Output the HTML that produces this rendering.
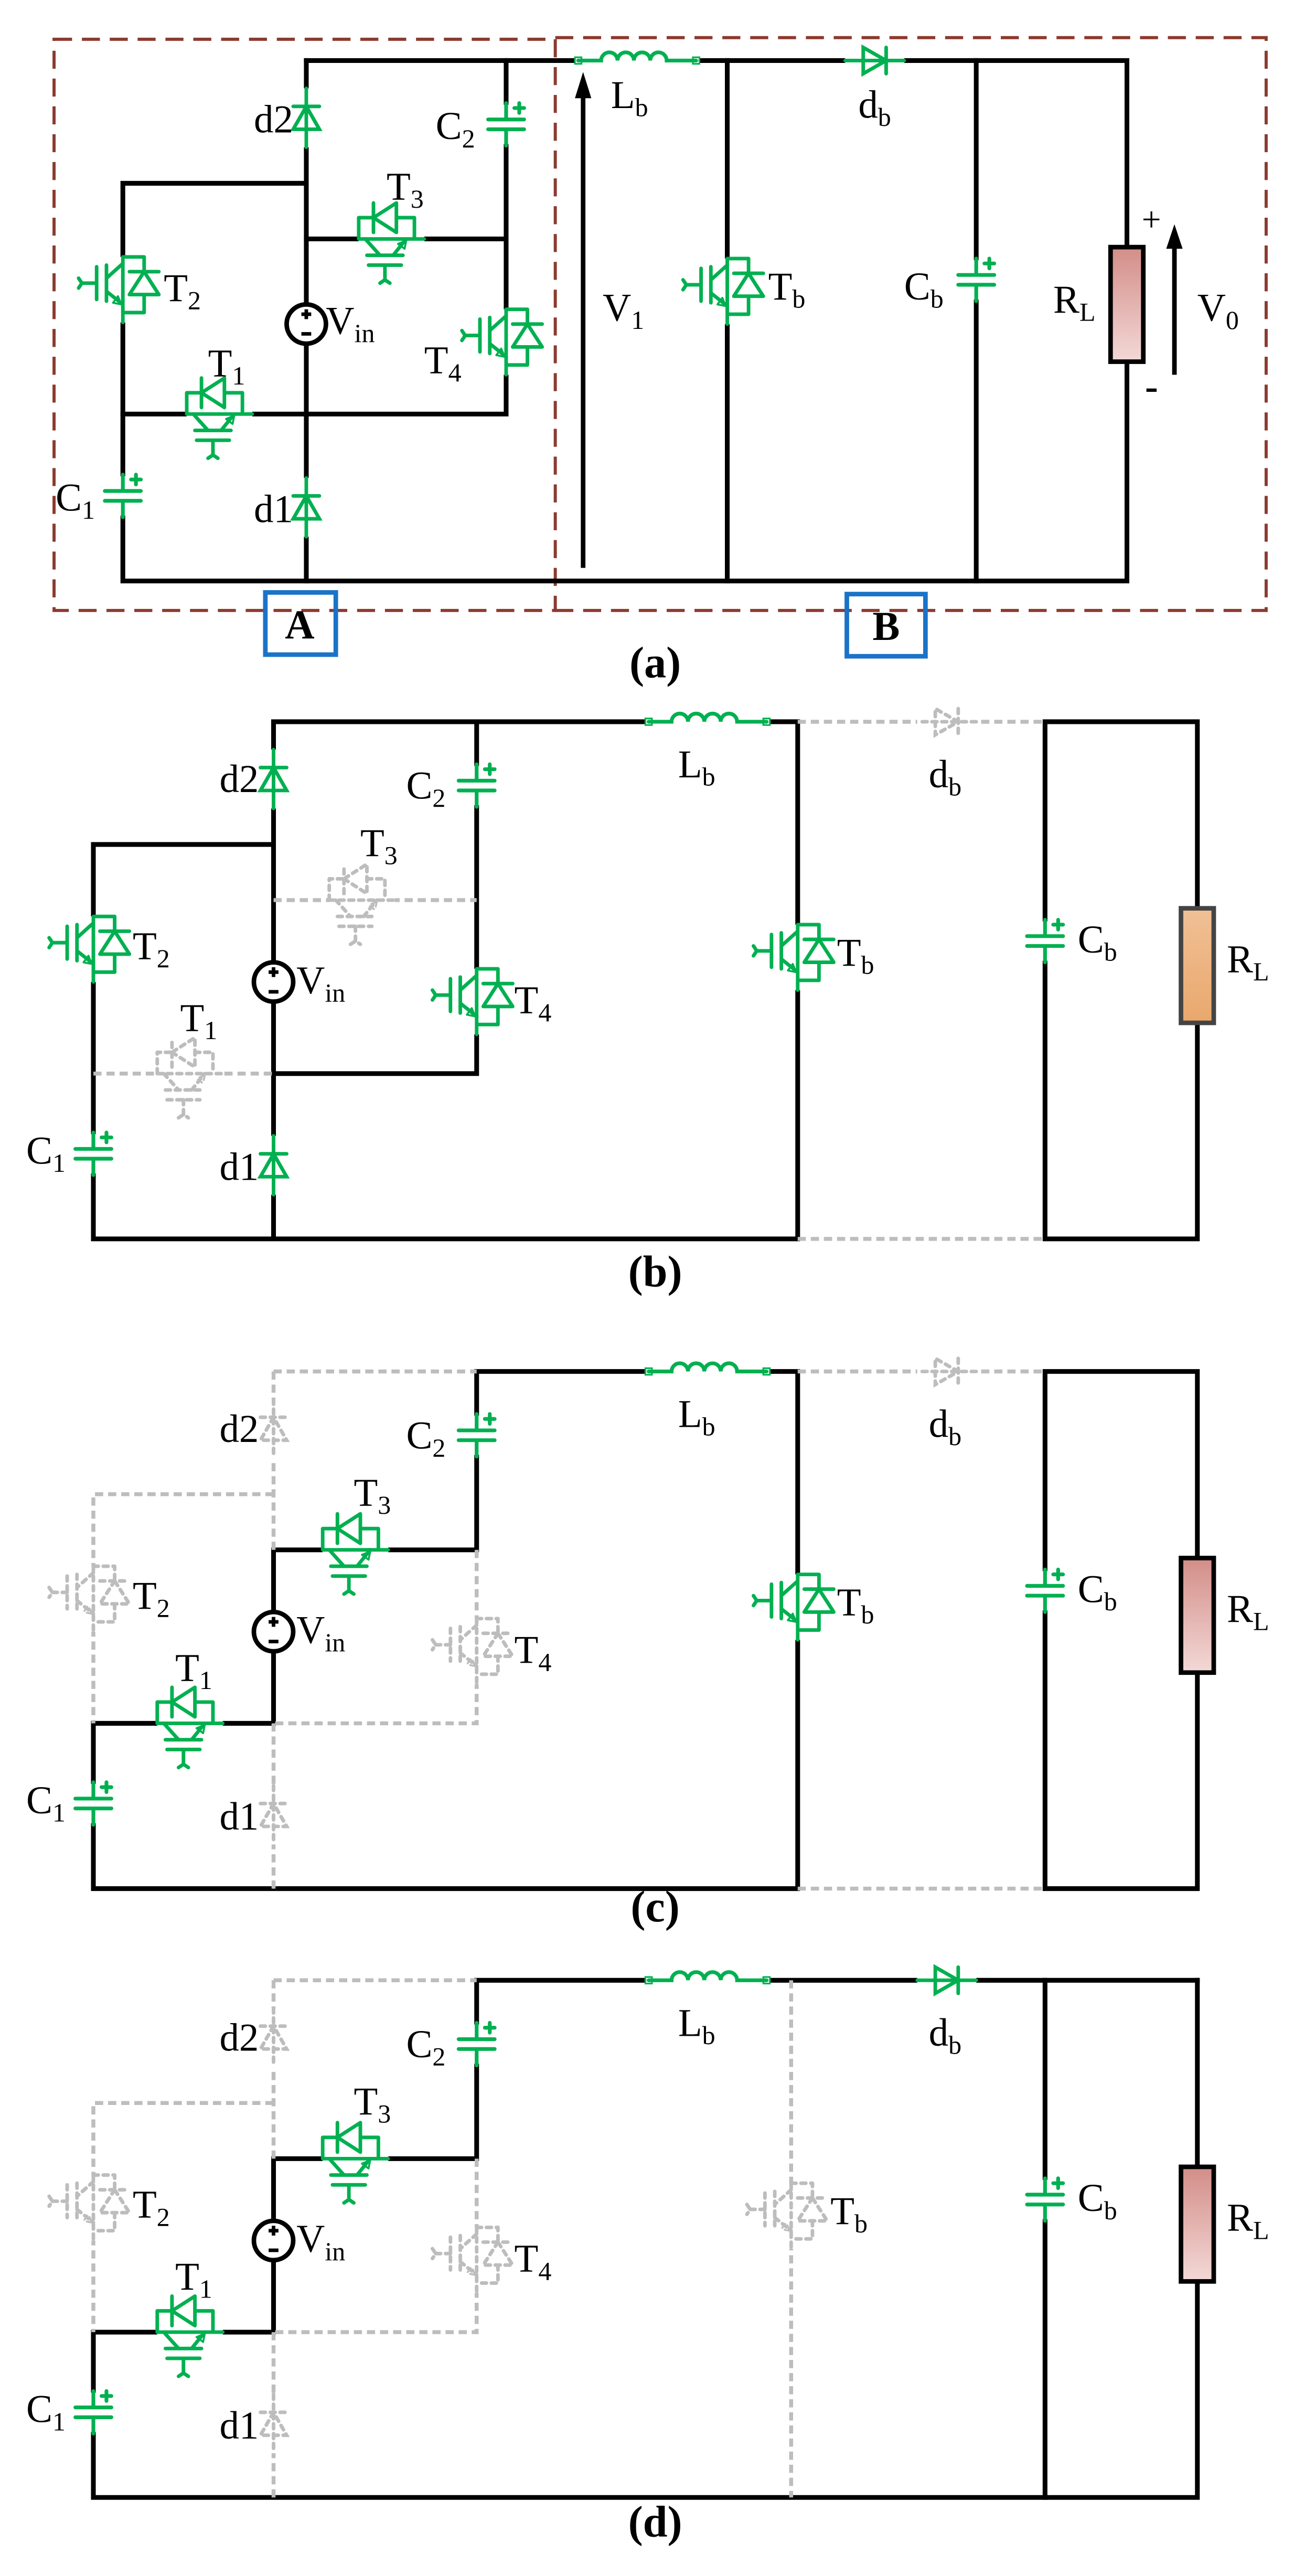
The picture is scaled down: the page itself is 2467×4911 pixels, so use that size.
<!DOCTYPE html>
<html><head><meta charset="utf-8"><style>
html,body{margin:0;padding:0;background:#fff;}
svg{display:block;}
text{font-family:"Liberation Serif",serif;fill:#000;}
</style></head><body>
<svg width="2467" height="4911" viewBox="0 0 790 1574" preserveAspectRatio="none" xmlns="http://www.w3.org/2000/svg">
<defs>
<linearGradient id="gp" x1="0" y1="0" x2="0" y2="1"><stop offset="0" stop-color="#d38d88"/><stop offset="1" stop-color="#f3d9d7"/></linearGradient>
<linearGradient id="go" x1="0" y1="0" x2="0" y2="1"><stop offset="0" stop-color="#f0c096"/><stop offset="1" stop-color="#e9a86c"/></linearGradient>
<g id="igbt" fill="none" stroke-width="2.2" stroke-linecap="round" stroke-linejoin="round">
 <rect x="-2" y="-17" width="4" height="40" fill="#fff" stroke="none"/>
 <path d="M0 -17 V23 M0 -17 H13 V-8 M4 -8 H22 M13 -8 L4 6 H22 Z M13 6 V17 H0"/>
 <path d="M0 -13 L-10 -4 M-10 -12 V10 M-16 -11 V9 M-25 -1 H-16 M-27 -4 L-25 -1 L-27 2 M-10 4 L0 12"/>
 <path d="M-1 12 L-6 11 L-3 7 Z" stroke-width="1.2"/>
</g>
<g id="dio" fill="none" stroke-width="2.2" stroke-linecap="round">
 <rect x="-2" y="-18" width="4" height="36" fill="#fff" stroke="none"/>
 <path d="M0 -18 V18 M-8 -7 H8 M0 -7 L-8 7 H8 Z"/>
</g>
<g id="cap" fill="none" stroke-width="2.3" stroke-linecap="round">
 <rect x="-3" y="-12" width="6" height="24" fill="#fff" stroke="none"/>
 <path d="M0 -13 V-3 M0 3 V13 M-11 -3 H11 M-11 3 H11 M8 -13 V-7 M5 -10 H11"/>
</g>
<g id="ind" fill="none" stroke-width="2.3" stroke-linecap="round">
 <rect x="0" y="-4" width="76" height="8" fill="#fff" stroke="none"/>
 <path d="M2 0 H16 A5 5 0 0 1 26 0 A5 5 0 0 1 36 0 A5 5 0 0 1 46 0 A5 5 0 0 1 56 0 H74"/>
 <rect x="0" y="-2" width="4" height="4" stroke-width="1"/>
 <rect x="72" y="-2" width="4" height="4" stroke-width="1"/>
</g>
<g id="vin">
 <circle cx="0" cy="0" r="12" fill="#fff" stroke="#000" stroke-width="2.8"/>
 <path d="M0 -9 V-3 M-3 -6 H3 M-3 6 H3" stroke="#000" stroke-width="2.2"/>
</g>
</defs>

<!-- ================= PANEL A ================= -->
<g fill="none" stroke="#8b3a2f" stroke-width="1.9" stroke-dasharray="11 6">
 <path d="M33 24 H339 V373 H33 Z"/>
 <path d="M339 23 H773 V373 H339"/>
</g>
<g stroke="#000" stroke-width="2.9" fill="none" stroke-linecap="square">
 <path d="M187 37 H351 M427 37 H688 V355 H75 V112 H187"/>
 <path d="M187 37 V355"/>
 <path d="M309 37 V253 H75"/>
 <path d="M187 146 H309"/>
 <path d="M444 37 V355 M596 37 V355"/>
</g>
<g stroke="#00b050" fill="#00b050">
 <use href="#dio" transform="translate(187,72)"/>
 <use href="#dio" transform="translate(187,310)"/>
 <use href="#dio" transform="translate(534,37) rotate(90)"/>
 <use href="#cap" transform="translate(309,76)"/>
 <use href="#cap" transform="translate(75,303)"/>
 <use href="#cap" transform="translate(596,171)"/>
 <use href="#igbt" transform="translate(75,174)"/>
 <use href="#igbt" transform="translate(309,206)"/>
 <use href="#igbt" transform="translate(444,175)"/>
 <use href="#igbt" transform="translate(236,146) rotate(-90)"/>
 <use href="#igbt" transform="translate(131,253) rotate(-90)"/>
 <use href="#ind" transform="translate(351,37)"/>
</g>
<use href="#vin" transform="translate(187,198)"/>
<rect x="678" y="151" width="20" height="70" fill="url(#gp)" stroke="#000" stroke-width="2.8"/>
<path d="M356 347 V58" stroke="#000" stroke-width="2.8"/>
<path d="M351 60 L356 44 L361 60 Z" fill="#000"/>
<path d="M717 229 V150" stroke="#000" stroke-width="2.8"/>
<path d="M712 152 L717 137 L722 152 Z" fill="#000"/>
<text x="697" y="141" font-size="21">+</text>
<text x="699" y="244" font-size="24" font-weight="bold">-</text>
<g font-size="24">
 <text x="179" y="81" text-anchor="end">d2</text>
 <text x="179" y="319" text-anchor="end">d1</text>
 <text x="266" y="85">C<tspan font-size="16" dy="5">2</tspan></text>
 <text x="236" y="122">T<tspan font-size="16" dy="5">3</tspan></text>
 <text x="100" y="184">T<tspan font-size="16" dy="5">2</tspan></text>
 <text x="199" y="204">V<tspan font-size="16" dy="5">in</tspan></text>
 <text x="127" y="230">T<tspan font-size="16" dy="5">1</tspan></text>
 <text x="259" y="228">T<tspan font-size="16" dy="5">4</tspan></text>
 <text x="34" y="312">C<tspan font-size="16" dy="5">1</tspan></text>
 <text x="373" y="66">L<tspan font-size="16" dy="5">b</tspan></text>
 <text x="524" y="72">d<tspan font-size="16" dy="5">b</tspan></text>
 <text x="368" y="196">V<tspan font-size="16" dy="5">1</tspan></text>
 <text x="469" y="183">T<tspan font-size="16" dy="5">b</tspan></text>
 <text x="552" y="183">C<tspan font-size="16" dy="5">b</tspan></text>
 <text x="643" y="191">R<tspan font-size="16" dy="5">L</tspan></text>
 <text x="731" y="196">V<tspan font-size="16" dy="5">0</tspan></text>
</g>
<rect x="162" y="362" width="43" height="38" fill="none" stroke="#1a73c8" stroke-width="2.8"/>
<rect x="517" y="363" width="48" height="38" fill="none" stroke="#1a73c8" stroke-width="2.8"/>
<text x="183" y="390" font-size="25" font-weight="bold" text-anchor="middle">A</text>
<text x="541" y="391" font-size="25" font-weight="bold" text-anchor="middle">B</text>
<text x="400" y="414" font-size="27" font-weight="bold" text-anchor="middle">(a)</text>

<!-- ================= PANEL B ================= -->
<g>
<g stroke="#000" stroke-width="2.9" fill="none" stroke-linecap="square">
 <path d="M167 441 H394 M470 441 H487 V757 H57 V516 H167 M167 441 V757 M291 441 V656 H167"/>
 <path d="M638 441 H731 V757 H638 Z"/>
</g>
<g stroke="#bdbdbd" stroke-width="2.4" fill="none" stroke-dasharray="5 3">
 <path d="M487 441 H638 M487 757 H638 M167 550 H291 M57 656 H167"/>
</g>
<g stroke="#bdbdbd" fill="#bdbdbd" stroke-dasharray="3 3">
 <use href="#dio" transform="translate(578,441) rotate(90)"/>
 <use href="#igbt" transform="translate(218,550) rotate(-90)"/>
 <use href="#igbt" transform="translate(113,656) rotate(-90)"/>
</g>
<g stroke="#00b050" fill="#00b050">
 <use href="#dio" transform="translate(167,476)"/>
 <use href="#dio" transform="translate(167,712)"/>
 <use href="#cap" transform="translate(291,480)"/>
 <use href="#cap" transform="translate(57,705)"/>
 <use href="#cap" transform="translate(638,575)"/>
 <use href="#igbt" transform="translate(57,577)"/>
 <use href="#igbt" transform="translate(291,609)"/>
 <use href="#igbt" transform="translate(487,582)"/>
 <use href="#ind" transform="translate(394,441)"/>
</g>
<use href="#vin" transform="translate(167,600)"/>
<rect x="721" y="555" width="20" height="70" fill="url(#go)" stroke="#444" stroke-width="2.8"/>
<g font-size="24">
 <text x="158" y="484" text-anchor="end">d2</text>
 <text x="158" y="721" text-anchor="end">d1</text>
 <text x="248" y="488">C<tspan font-size="16" dy="5">2</tspan></text>
 <text x="220" y="523">T<tspan font-size="16" dy="5">3</tspan></text>
 <text x="81" y="586">T<tspan font-size="16" dy="5">2</tspan></text>
 <text x="181" y="607">V<tspan font-size="16" dy="5">in</tspan></text>
 <text x="110" y="630">T<tspan font-size="16" dy="5">1</tspan></text>
 <text x="314" y="619">T<tspan font-size="16" dy="5">4</tspan></text>
 <text x="16" y="711">C<tspan font-size="16" dy="5">1</tspan></text>
 <text x="414" y="475">L<tspan font-size="16" dy="5">b</tspan></text>
 <text x="567" y="481">d<tspan font-size="16" dy="5">b</tspan></text>
 <text x="511" y="590">T<tspan font-size="16" dy="5">b</tspan></text>
 <text x="658" y="582">C<tspan font-size="16" dy="5">b</tspan></text>
 <text x="749" y="594">R<tspan font-size="16" dy="5">L</tspan></text>
</g>
<text x="400" y="786" font-size="27" font-weight="bold" text-anchor="middle">(b)</text>
</g>

<!-- ================= PANEL C ================= -->
<g transform="translate(0,397)">
<g stroke="#000" stroke-width="2.9" fill="none" stroke-linecap="square">
 <path d="M291 441 H394 M470 441 H487 V757 H57 V656 H167 V550 H291 V441"/>
 <path d="M638 441 H731 V757 H638 Z"/>
</g>
<g stroke="#bdbdbd" stroke-width="2.4" fill="none" stroke-dasharray="5 3">
 <path d="M167 441 H291 M487 441 H638 M487 757 H638 M167 441 V550 M167 516 H57 V656 M291 550 V656 H167 M167 656 V757"/>
</g>
<g stroke="#bdbdbd" fill="#bdbdbd" stroke-dasharray="3 3">
 <use href="#dio" transform="translate(578,441) rotate(90)"/>
 <use href="#dio" transform="translate(167,476)"/>
 <use href="#dio" transform="translate(167,712)"/>
 <use href="#igbt" transform="translate(57,577)"/>
 <use href="#igbt" transform="translate(291,609)"/>
</g>
<g stroke="#00b050" fill="#00b050">
 <use href="#cap" transform="translate(291,480)"/>
 <use href="#cap" transform="translate(57,705)"/>
 <use href="#cap" transform="translate(638,575)"/>
 <use href="#igbt" transform="translate(487,582)"/>
 <use href="#igbt" transform="translate(214,550) rotate(-90)"/>
 <use href="#igbt" transform="translate(113,656) rotate(-90)"/>
 <use href="#ind" transform="translate(394,441)"/>
</g>
<use href="#vin" transform="translate(167,600)"/>
<rect x="721" y="555" width="20" height="70" fill="url(#gp)" stroke="#000" stroke-width="2.8"/>
<g font-size="24">
 <text x="158" y="484" text-anchor="end">d2</text>
 <text x="158" y="721" text-anchor="end">d1</text>
 <text x="248" y="488">C<tspan font-size="16" dy="5">2</tspan></text>
 <text x="216" y="523">T<tspan font-size="16" dy="5">3</tspan></text>
 <text x="81" y="586">T<tspan font-size="16" dy="5">2</tspan></text>
 <text x="181" y="607">V<tspan font-size="16" dy="5">in</tspan></text>
 <text x="107" y="630">T<tspan font-size="16" dy="5">1</tspan></text>
 <text x="314" y="619">T<tspan font-size="16" dy="5">4</tspan></text>
 <text x="16" y="711">C<tspan font-size="16" dy="5">1</tspan></text>
 <text x="414" y="475">L<tspan font-size="16" dy="5">b</tspan></text>
 <text x="567" y="481">d<tspan font-size="16" dy="5">b</tspan></text>
 <text x="511" y="590">T<tspan font-size="16" dy="5">b</tspan></text>
 <text x="658" y="582">C<tspan font-size="16" dy="5">b</tspan></text>
 <text x="749" y="594">R<tspan font-size="16" dy="5">L</tspan></text>
</g>
<text x="400" y="777" font-size="27" font-weight="bold" text-anchor="middle">(c)</text>
</g>

<!-- ================= PANEL D ================= -->
<g transform="translate(0,769)">
<g stroke="#000" stroke-width="2.9" fill="none" stroke-linecap="square">
 <path d="M291 441 H394 M470 441 H638 M731 441 V757 H57 V656 H167 V550 H291 V441"/>
 <path d="M638 441 H731 M638 441 V757"/>
</g>
<g stroke="#bdbdbd" stroke-width="2.4" fill="none" stroke-dasharray="5 3">
 <path d="M167 441 H291 M167 441 V550 M167 516 H57 V656 M291 550 V656 H167 M167 656 V757 M483 441 V757"/>
</g>
<g stroke="#bdbdbd" fill="#bdbdbd" stroke-dasharray="3 3">
 <use href="#dio" transform="translate(167,476)"/>
 <use href="#dio" transform="translate(167,712)"/>
 <use href="#igbt" transform="translate(57,577)"/>
 <use href="#igbt" transform="translate(291,609)"/>
 <use href="#igbt" transform="translate(483,582)"/>
</g>
<g stroke="#00b050" fill="#00b050">
 <use href="#dio" transform="translate(578,441) rotate(90)"/>
 <use href="#cap" transform="translate(291,480)"/>
 <use href="#cap" transform="translate(57,705)"/>
 <use href="#cap" transform="translate(638,575)"/>
 <use href="#igbt" transform="translate(214,550) rotate(-90)"/>
 <use href="#igbt" transform="translate(113,656) rotate(-90)"/>
 <use href="#ind" transform="translate(394,441)"/>
</g>
<use href="#vin" transform="translate(167,600)"/>
<rect x="721" y="555" width="20" height="70" fill="url(#gp)" stroke="#000" stroke-width="2.8"/>
<g font-size="24">
 <text x="158" y="484" text-anchor="end">d2</text>
 <text x="158" y="721" text-anchor="end">d1</text>
 <text x="248" y="488">C<tspan font-size="16" dy="5">2</tspan></text>
 <text x="216" y="523">T<tspan font-size="16" dy="5">3</tspan></text>
 <text x="81" y="586">T<tspan font-size="16" dy="5">2</tspan></text>
 <text x="181" y="607">V<tspan font-size="16" dy="5">in</tspan></text>
 <text x="107" y="630">T<tspan font-size="16" dy="5">1</tspan></text>
 <text x="314" y="619">T<tspan font-size="16" dy="5">4</tspan></text>
 <text x="16" y="711">C<tspan font-size="16" dy="5">1</tspan></text>
 <text x="414" y="475">L<tspan font-size="16" dy="5">b</tspan></text>
 <text x="567" y="481">d<tspan font-size="16" dy="5">b</tspan></text>
 <text x="507" y="590">T<tspan font-size="16" dy="5">b</tspan></text>
 <text x="658" y="582">C<tspan font-size="16" dy="5">b</tspan></text>
 <text x="749" y="594">R<tspan font-size="16" dy="5">L</tspan></text>
</g>
<text x="400" y="781" font-size="27" font-weight="bold" text-anchor="middle">(d)</text>
</g>
</svg>
</body></html>
